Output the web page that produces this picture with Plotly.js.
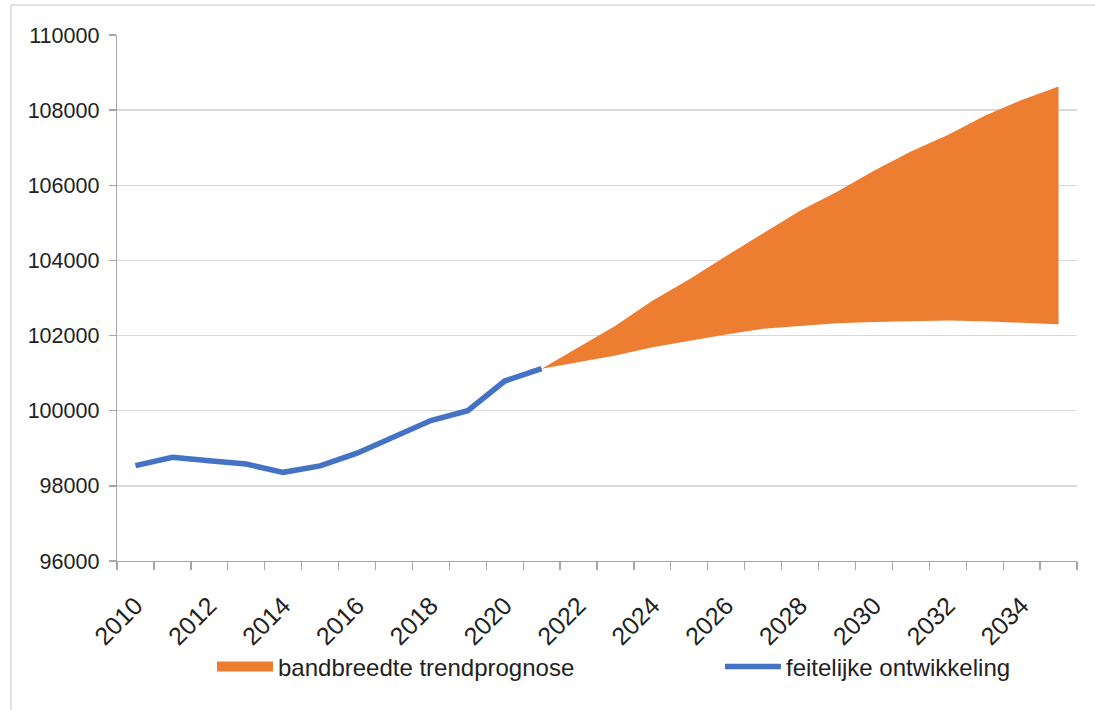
<!DOCTYPE html>
<html>
<head>
<meta charset="utf-8">
<script src="https://cdn.plot.ly/plotly-3.0.1.min.js"></script>
<style>html,body{margin:0;padding:0;background:#fff;}#chart{width:1095px;height:710px;}</style>
</head>
<body>
<div id="chart"></div>
<script>
// Data
const actualYears = [2010, 2011, 2012, 2013, 2014, 2015, 2016, 2017, 2018, 2019, 2020, 2021];
const actualValues = [98540, 98760, 98670, 98580, 98360, 98530, 98870, 99320, 99740, 100000, 100790, 101120];

const forecastYears = [2021, 2022, 2023, 2024, 2025, 2026, 2027, 2028, 2029, 2030, 2031, 2032, 2033, 2034, 2035];
const forecastUpper = [101120, 101690, 102260, 102930, 103500, 104120, 104720, 105320, 105830, 106390, 106900, 107340, 107850, 108270, 108630];
const forecastLower = [101120, 101290, 101470, 101690, 101870, 102030, 102180, 102260, 102330, 102360, 102390, 102400, 102380, 102340, 102300];

const tickYears = [2010, 2012, 2014, 2016, 2018, 2020, 2022, 2024, 2026, 2028, 2030, 2032, 2034];
const categoryBoundaries = [2009.5, 2010.5, 2011.5, 2012.5, 2013.5, 2014.5, 2015.5, 2016.5, 2017.5, 2018.5, 2019.5, 2020.5, 2021.5, 2022.5, 2023.5, 2024.5, 2025.5, 2026.5, 2027.5, 2028.5, 2029.5, 2030.5, 2031.5, 2032.5, 2033.5, 2034.5, 2035.5];

const bandName = 'bandbreedte trendprognose';
const actualName = 'feitelijke ontwikkeling';

const FONT = 'Liberation Sans, Arial, sans-serif';
const TEXT = '#222222';
const AXIS = '#A6A6A6';
const GRID = '#D9D9D9';
const ORANGE = '#ED7D31';
const BLUE = '#4472C4';

const traces = [
  {
    x: forecastYears, y: forecastLower, type: 'scatter', mode: 'lines',
    line: {width: 0, color: ORANGE}, showlegend: false, hoverinfo: 'skip', legendgroup: 'band'
  },
  {
    x: forecastYears, y: forecastUpper, type: 'scatter', mode: 'lines',
    name: bandName, fill: 'tonexty', fillcolor: ORANGE,
    line: {width: 0, color: ORANGE}, showlegend: false, legendgroup: 'band'
  },
  // legend swatch for the band (no data points of its own)
  {
    x: [null], y: [null], type: 'scatter', mode: 'lines',
    name: bandName, legendgroup: 'band', legend: 'legend', line: {width: 13, color: ORANGE}
  },
  {
    x: actualYears, y: actualValues, type: 'scatter', mode: 'lines',
    name: actualName, legend: 'legend2', line: {width: 5.5, color: BLUE}
  },
  {
    x: [categoryBoundaries[0]], y: [96000], xaxis: 'x2', type: 'scatter', mode: 'markers',
    marker: {opacity: 0}, showlegend: false, hoverinfo: 'skip'
  }
];

const legendCommon = {
  orientation: 'h', xref: 'container', yref: 'container',
  xanchor: 'left', y: 0.0606, yanchor: 'middle',
  font: {family: FONT, size: 24, color: TEXT},
  itemwidth: 56, bgcolor: 'rgba(0,0,0,0)'
};

const layout = {
  width: 1095, height: 710,
  margin: {l: 117, r: 18, t: 35, b: 149},
  paper_bgcolor: '#ffffff', plot_bgcolor: '#ffffff',
  font: {family: FONT, color: TEXT, size: 21},
  xaxis: {
    type: 'linear', range: [2009.5, 2035.5], automargin: false,
    tickmode: 'array', tickvals: tickYears, ticktext: tickYears.map(String),
    tickangle: -45, ticks: '', ticklabelstandoff: 24,
    showgrid: false, zeroline: false, showline: false,
    tickfont: {family: FONT, size: 25, color: TEXT}
  },
  xaxis2: {
    overlaying: 'x', matches: 'x', range: [2009.5, 2035.5], automargin: false,
    tickmode: 'array', tickvals: categoryBoundaries, showticklabels: false,
    ticks: 'outside', ticklen: 8, tickcolor: AXIS, tickwidth: 1.3,
    showline: true, linecolor: AXIS, linewidth: 1.3, showgrid: false, zeroline: false,
    anchor: 'y', side: 'bottom'
  },
  yaxis: {
    range: [96000, 110000], dtick: 2000, tick0: 96000, tickformat: 'd', automargin: false,
    ticks: 'outside', ticklen: 7, tickcolor: AXIS, tickwidth: 1.3, ticklabelstandoff: 5,
    showline: true, linecolor: AXIS, linewidth: 1.3,
    showgrid: true, gridcolor: GRID, gridwidth: 1.3, zeroline: false,
    tickfont: {family: FONT, size: 21.5, color: TEXT}
  },
  showlegend: true,
  legend: Object.assign({}, legendCommon, {x: 0.1936}),
  legend2: Object.assign({}, legendCommon, {x: 0.6575}),
  shapes: [
    {type: 'line', xref: 'paper', yref: 'paper', x0: -0.1104, x1: 1.02, y0: 1.057, y1: 1.057, line: {color: GRID, width: 1.5}},
    {type: 'line', xref: 'paper', yref: 'paper', x0: -0.1104, x1: -0.1104, y0: 1.057, y1: -0.3, line: {color: GRID, width: 1.5}}
  ]
};

Plotly.newPlot('chart', traces, layout, {displayModeBar: false, staticPlot: true});
</script>
</body>
</html>
